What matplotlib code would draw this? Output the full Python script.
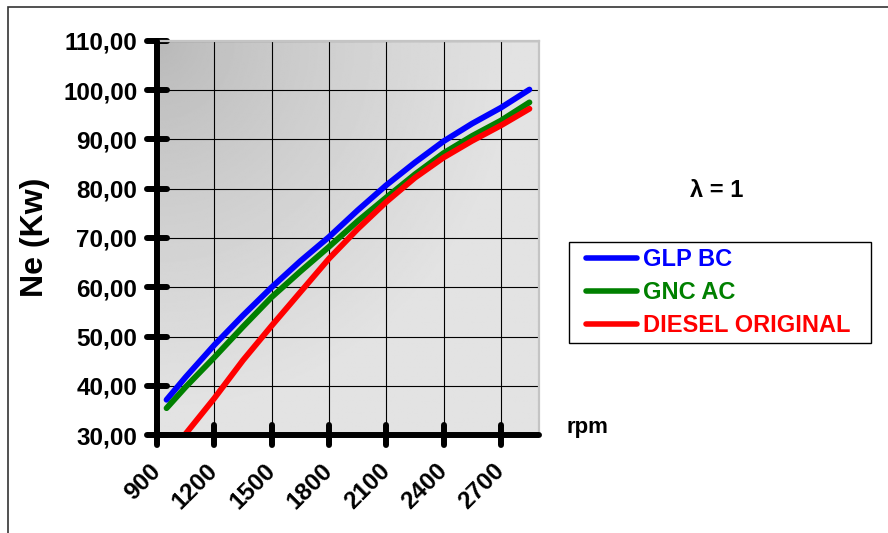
import numpy as np
import matplotlib
matplotlib.use('Agg')
import matplotlib.pyplot as plt
import matplotlib.ticker as ticker
from matplotlib.markers import MarkerStyle
from matplotlib.legend_handler import HandlerLine2D
from matplotlib.patches import Rectangle

plt.rcParams['font.family'] = ['Liberation Sans', 'DejaVu Sans']
plt.rcParams['font.weight'] = 'bold'

# datos
rpm = [950, 1050, 1200, 1350, 1500, 1650, 1800, 1950, 2100, 2250, 2400, 2550, 2700, 2850]
glp_bc = [37.2, 41.8, 48.3, 54.3, 60.0, 65.3, 70.2, 75.6, 80.7, 85.3, 89.6, 93.2, 96.4, 100.1]
gnc_ac = [35.5, 39.8, 45.8, 52.0, 58.0, 63.2, 68.2, 73.4, 78.2, 82.9, 87.2, 90.7, 93.8, 97.5]
diesel = [25.8, 30.3, 37.5, 45.2, 52.2, 59.0, 65.8, 71.8, 77.3, 82.2, 86.3, 89.7, 92.8, 96.2]

x_ticks = [900, 1200, 1500, 1800, 2100, 2400, 2700]
y_ticks = [30, 40, 50, 60, 70, 80, 90, 100, 110]

series = [
    ('GLP BC', glp_bc, '#0000ff'),
    ('GNC AC', gnc_ac, '#008000'),
    ('DIESEL ORIGINAL', diesel, '#ff0000'),
]

W, H = 888, 533
fig = plt.figure(figsize=(W / 100, H / 100), dpi=100)
fig.patch.set_facecolor('white')

# marco exterior (solo se ven el lado izquierdo y el superior)
fig.patches.append(Rectangle((8 / W, -0.2), 1.2, 1.2 - 7 / H, transform=fig.transFigure,
                             fill=False, edgecolor='#333333', linewidth=1.2))

ax = fig.add_axes([157 / W, 1 - 435.3 / H, (539 - 157) / W, (435.3 - 40.7) / H])

# fondo degradado desde la esquina superior izquierda
u = np.linspace(0, 1, 300)
v = np.linspace(0, 1, 300)
U, V = np.meshgrid(u, v)
r = np.clip(np.sqrt(U ** 2 + V ** 2) / 0.95, 0, 1)
grad = 0.72 + 0.17 * r ** 0.8
ax.imshow(grad, cmap='gray', vmin=0, vmax=1, extent=(900, 2900, 30, 110),
          origin='upper', aspect='auto', interpolation='bilinear', zorder=0)

for name, vals, col in series:
    ax.plot(rpm, vals, color=col, linewidth=4.2, solid_capstyle='round',
            solid_joinstyle='round', label=name, zorder=3)

ax.set_xlim(900, 2900)
ax.set_ylim(30, 110)
ax.set_xticks(x_ticks)
ax.set_yticks(y_ticks)
ax.yaxis.set_major_formatter(ticker.FuncFormatter(lambda val, _: f'{val:.2f}'.replace('.', ',')))
ax.grid(True, color='black', linewidth=0.8)

for side in ['left', 'bottom']:
    ax.spines[side].set_linewidth(4.3)
    ax.spines[side].set_color('black')
    ax.spines[side].set_capstyle('round')
    ax.spines[side].set_zorder(4)
for side in ['top', 'right']:
    ax.spines[side].set_linewidth(1.6)
    ax.spines[side].set_color('#c4c4c4')

ax.tick_params(axis='both', direction='inout', length=14.4, width=4.3, labelsize=17.5)
ax.tick_params(axis='y', pad=7)
ax.tick_params(axis='x', pad=16)
plt.setp(ax.get_xticklabels(), rotation=45, ha='right', va='center', rotation_mode='anchor')
for lbl in ax.get_xticklabels() + ax.get_yticklabels():
    lbl.set_fontweight('bold')

for tl in ax.xaxis.get_ticklines() + ax.yaxis.get_ticklines():
    tl.set_marker(MarkerStyle(tl.get_marker(), capstyle='round'))
    tl.set_zorder(4)

fig.text(35 / W, 1 - 237 / H, 'Ne (Kw)', rotation=90, fontsize=23, fontweight='bold',
         ha='center', va='center')
fig.text(567 / W, 1 - 427 / H, 'rpm', fontsize=16, fontweight='bold', ha='left', va='center')
fig.text(717 / W, 1 - 190 / H, 'λ = 1', fontsize=17, fontweight='bold', ha='center', va='center')

fs = 17
leg = ax.legend(loc='upper left', bbox_to_anchor=(569 / W, 1 - 342 / H, 302 / W, 100 / H),
                bbox_transform=fig.transFigure, mode='expand', borderaxespad=0,
                prop={'weight': 'bold', 'size': fs}, labelcolor='linecolor',
                fancybox=False, framealpha=1, edgecolor='black', borderpad=0.25,
                handlelength=2.63, handletextpad=0.25, labelspacing=0.43,
                handler_map={matplotlib.lines.Line2D: HandlerLine2D(xpad=0.47)})
leg.get_frame().set_linewidth(1.0)
for h in leg.get_lines():
    h.set_linewidth(4.0)
    h.set_solid_capstyle('round')

fig.savefig('out.png', dpi=100)
